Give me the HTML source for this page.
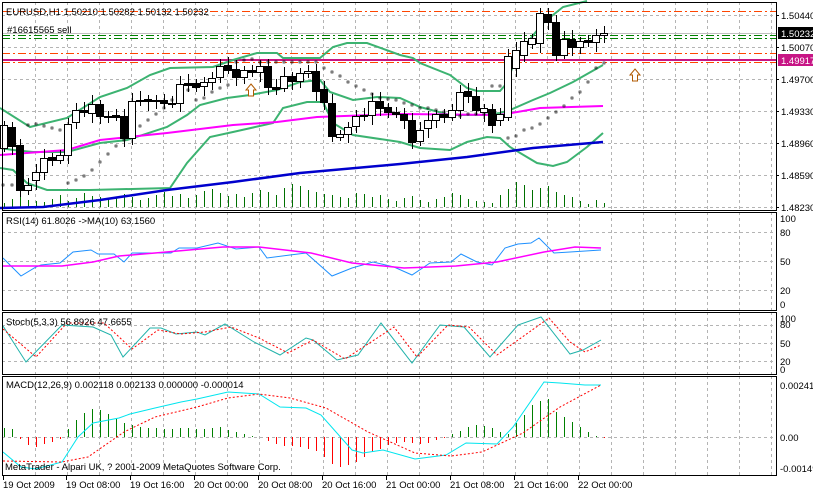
<!DOCTYPE html>
<html><head><meta charset="utf-8"><style>
html,body{margin:0;padding:0;background:#fff;}
svg{display:block;font-family:"Liberation Sans",sans-serif;font-size:9.5px;}
</style></head><body>
<svg id="s" width="813" height="492" xmlns="http://www.w3.org/2000/svg"></svg>
<script>
const S=document.getElementById('s');let h='';
const pl=(pts,c,w,d)=>`<polyline points="${pts.map(p=>p.join(',')).join(' ')}" fill="none" stroke="${c}" stroke-width="${w}"${d?` stroke-dasharray="${d}"`:''}/>`;
const L=(x1,y1,x2,y2,c,w,d)=>`<line x1="${x1}" y1="${y1}" x2="${x2}" y2="${y2}" stroke="${c}" stroke-width="${w||1}"${d?` stroke-dasharray="${d}"`:''}/>`;
const T=(x,y,t,c,a)=>`<text x="${x}" y="${y}" fill="${c||'#000'}"${a?` text-anchor="${a}"`:''}>${t}</text>`;
const panels=[[2,210],[212,310],[312,374],[376,475]];
const gray='#b4b4b4',gd='3,3';
for(const [t,b] of panels){for(let x=35;x<776;x+=32)h+=L(x+.5,t,x+.5,b,gray,1,gd);}
[15,47,79,111,143,175,207].forEach(y=>h+=L(2,y+.5,776,y+.5,gray,1,gd));
[232,261,290].forEach(y=>h+=L(2,y+.5,776,y+.5,gray,1,gd));
[325,343,361].forEach(y=>h+=L(2,y+.5,776,y+.5,gray,1,gd));
h+=L(2,437.5,776,437.5,gray,1,gd);
h+=L(2,11.5,776,11.5,'#ff4500',1,'8,3,2,3');
h+=L(2,53.5,776,53.5,'#ff4500',1,'8,3,2,3');
h+=L(2,62.5,776,62.5,'#ff4500',1,'8,3,2,3');
h+=L(2,33.5,776,33.5,'#c0c0c0',1);
h+=L(2,35.5,776,35.5,'#008000',1,'8,3,2,3');
h+=L(2,38.5,776,38.5,'#008000',1,'8,3,2,3');
h+=L(2,60,776,60,'#c71585',2);
const vol=[4,8,10,7,6,5,8,12,6,9,14,11,10,8,9,13,10,7,9,12,15,11,13,9,12,16,18,14,11,13,10,14,17,15,12,19,23,21,17,15,13,12,10,9,14,13,10,12,8,6,9,11,7,5,8,10,14,12,8,6,5,4,12,18,25,22,17,19,21,15,12,10,6,3,7,4];
vol.forEach((v,i)=>{const x=4+8*i+.5;h+=L(x,207,x,207-v,'#007000',1);});
const G='#3cb371';
h+=pl([[0,108],[30,127],[67,118],[100,97],[127,88],[150,75],[170,68],[213,67],[233,60],[257,53],[277,53],[283,58],[320,58],[333,47],[347,43],[367,43],[400,55],[413,58],[420,63],[450,75],[467,88],[477,91],[500,91],[507,83],[515,60],[527,43],[543,23],[563,7],[587,1]],G,2);
h+=pl([[0,148],[13,150],[33,152],[67,152],[100,143],[127,140],[167,127],[187,115],[200,105],[227,98],[250,95],[277,90],[300,82],[320,80],[330,92],[353,100],[377,97],[400,98],[420,107],[450,115],[483,115],[500,113],[510,110],[533,100],[550,93],[573,82],[603,65]],G,2);
h+=pl([[0,168],[13,170],[27,183],[47,190],[90,190],[170,188],[187,163],[210,137],[233,132],[273,123],[283,108],[307,102],[323,102],[333,123],[353,135],[400,142],[420,148],[450,150],[467,142],[487,137],[500,138],[510,147],[537,163],[553,166],[567,162],[587,147],[603,133]],G,2);
h+=pl([[0,155],[67,150],[100,140],[167,133],[233,125],[277,122],[317,117],[400,114],[500,115],[540,108],[603,106]],'#ff00ff',2);
h+=pl([[0,208],[43,207],[100,200],[167,190],[233,182],[300,173],[400,164],[467,157],[533,148],[603,142]],'#0000cd',2.5);
const sar=[[3,185],[12,185],[28,125],[36,124],[44,126],[52,128],[60,130],[68,183],[76,180],[84,176],[92,170],[100,162],[108,154],[116,146],[124,140],[132,134],[140,126],[148,120],[156,114],[164,108],[172,100],[180,96],[188,90],[196,100],[204,98],[212,92],[220,88],[228,85],[236,62],[244,60],[252,59],[260,62],[268,62],[276,62],[284,62],[292,62],[300,62],[308,62],[316,62],[324,68],[332,72],[340,76],[348,82],[356,86],[364,90],[372,94],[380,98],[388,99],[396,100],[404,103],[412,105],[420,108],[428,108],[436,110],[444,112],[452,113],[460,116],[468,114],[476,114],[484,114],[492,86],[500,86],[508,138],[516,136],[524,130],[532,128],[540,124],[548,118],[556,112],[564,106],[572,98],[580,92],[588,82],[596,68],[604,63]];
sar.forEach(p=>h+=`<rect x="${p[0]-1}" y="${p[1]-1}" width="2" height="2" fill="none" stroke="#000" stroke-width=".6"/>`);
const c=[[4,125,148,'w'],[12,127,146,'b'],[20,145,190,'b'],[28,185,190,'w'],[36,172,180,'w'],[44,158,172,'w'],[52,157,160,'b'],[60,155,160,'w'],[68,124,155,'w'],[76,110,122,'w'],[84,110,112,'b'],[92,104,113,'w'],[100,104,116,'b'],[108,116,117,'b'],[116,115,117,'b'],[124,116,138,'b'],[132,101,138,'w'],[140,100,101,'b'],[148,99,101,'b'],[156,100,101,'b'],[164,100,103,'b'],[172,103,104,'b'],[180,84,103,'w'],[188,83,85,'b'],[196,83,87,'b'],[204,82,86,'w'],[212,78,82,'w'],[220,66,77,'w'],[228,65,70,'b'],[236,69,77,'b'],[244,70,77,'w'],[252,70,72,'b'],[260,66,72,'w'],[268,66,87,'b'],[276,87,89,'b'],[284,76,88,'w'],[292,76,81,'b'],[300,73,81,'w'],[308,71,73,'w'],[316,71,91,'b'],[324,89,102,'b'],[332,103,136,'b'],[340,134,137,'w'],[348,127,134,'w'],[356,116,126,'w'],[364,115,116,'w'],[372,101,115,'w'],[380,101,108,'b'],[388,107,112,'b'],[396,112,114,'b'],[404,114,120,'b'],[412,120,142,'b'],[420,130,141,'w'],[428,120,128,'w'],[436,114,120,'w'],[444,114,117,'b'],[452,110,117,'w'],[460,92,110,'w'],[468,91,96,'b'],[476,96,110,'b'],[484,108,112,'w'],[492,109,125,'b'],[500,114,120,'w'],[508,56,117,'w'],[516,50,68,'w'],[524,41,55,'w'],[532,38,44,'w'],[540,13,43,'w'],[548,14,22,'b'],[556,22,55,'b'],[564,39,55,'w'],[572,39,47,'b'],[580,41,47,'w'],[588,40,42,'b'],[596,35,42,'w'],[604,33,35,'w']];
c.forEach((k,i)=>{const [x,t,b,col]=k;const wt=t-4-(i*7%6),wb=b+4+(i*5%7);h+=L(x+.5,wt,x+.5,wb,'#000',1);h+=`<rect x="${x-3.5}" y="${t+.5}" width="7" height="${Math.max(1,b-t)}" fill="${col=='w'?'#fff':'#000'}" stroke="#000" stroke-width="1"/>`;});
const arr=(x,y)=>`<path d="M${x},${y} l5,6 h-2.5 v6 h-5 v-6 h-2.5 z" fill="#fff" stroke="#b05a00" stroke-width="1"/>`;
h+=arr(251,84)+arr(635,69);
h+=pl([[3,258],[21,276],[36,267],[41,265],[60,263],[73,252],[91,250],[98,254],[114,254],[124,262],[132,253],[171,253],[179,248],[197,248],[218,243],[236,249],[259,247],[267,258],[290,255],[306,253],[332,276],[352,268],[373,262],[394,267],[412,275],[430,263],[451,262],[461,254],[477,262],[492,265],[505,248],[518,244],[531,243],[539,238],[554,253],[570,252],[601,250]],'#1e90ff',1);
h+=pl([[3,266],[62,266],[93,262],[119,256],[155,253],[223,247],[259,247],[311,253],[352,263],[404,268],[456,266],[497,262],[544,252],[575,247],[601,248]],'#ff00ff',1.5);
h+=pl([[3,326],[26,362],[62,325],[93,327],[111,335],[123,357],[150,328],[161,328],[176,334],[197,332],[205,335],[225,324],[254,342],[280,355],[306,338],[313,340],[337,360],[358,355],[381,323],[412,363],[440,325],[464,327],[490,357],[518,325],[541,317],[570,354],[583,350],[601,340]],'#20b2aa',1);
h+=pl([[3,329],[36,357],[67,323],[104,323],[132,349],[158,330],[181,334],[205,332],[231,327],[259,338],[288,353],[313,340],[345,359],[394,327],[417,357],[448,325],[469,327],[497,355],[549,318],[570,342],[585,352],[601,345]],'#ff0000',1,'2,2');
const hv=[9,8,-2,-8,-10,-7,-5,-2,8,17,24,28,27,23,18,14,12,10,9,9,8,8,9,9,8,8,9,10,7,5,3,1,0,-4,-7,-9,-9,-10,-12,-14,-20,-27,-30,-28,-25,-20,-15,-12,-8,-6,-5,-6,-7,-6,-3,-1,3,6,10,12,11,9,5,3,14,22,32,36,38,25,20,15,10,5,1,-1];
hv.forEach((v,i)=>{const x=4+8*i+.5;if(v)h+=L(x,437,x,437-v,v>0?'#008000':'#ff0000',1);});
h+=pl([[3,452],[21,467],[36,469],[62,462],[78,437],[93,423],[119,418],[130,414],[155,408],[181,402],[197,399],[228,392],[259,394],[280,407],[306,408],[321,415],[352,450],[363,453],[383,450],[415,459],[446,455],[466,443],[497,444],[513,427],[544,382],[560,383],[585,385],[601,385]],'#00e5ee',1);
h+=pl([[3,461],[62,462],[88,457],[124,432],[155,417],[197,407],[228,398],[259,394],[290,398],[326,408],[368,432],[415,453],[451,456],[482,452],[523,433],[560,407],[601,385]],'#ff0000',1,'2,2');
for(const [t,b] of panels)h+=`<rect x="2.5" y="${t+.5}" width="774" height="${b-t}" fill="none" stroke="#000" stroke-width="1"/>`;
[[15,'1.50440'],[47,'1.50070'],[79,'1.49700'],[111,'1.49330'],[143,'1.48960'],[175,'1.48590'],[207,'1.48230']].forEach(p=>{h+=L(776,p[0]+.5,779,p[0]+.5,'#000');h+=T(781,p[0]+4,p[1]);});
h+=`<rect x="778" y="27" width="35" height="12" fill="#000"/>`+T(781,37,'1.50232','#fff');
h+=`<rect x="778" y="54" width="35" height="12" fill="#c71585"/>`+T(781,64,'1.49917','#fff');
[[218,'100'],[232,'80'],[261,'50'],[290,'20'],[304,'0']].forEach(p=>h+=T(780,p[0]+4,p[1]));
[[318,'100'],[324,'80'],[343,'50'],[361,'20'],[369,'0']].forEach(p=>h+=T(780,p[0]+4,p[1]));
[[385,'0.002414'],[437,'0.00'],[468,'-0.00149']].forEach(p=>h+=T(780,p[0]+4,p[1]));
h+=T(6,15,'EURUSD,H1  1.50210 1.50282 1.50132 1.50232');
h+=T(7,33,'#16615565 sell');
h+=T(6,224,'RSI(14) 61.8026  -&gt;MA(10) 63.1560');
h+=T(6,325,'Stoch(5,3,3) 56.8926 47.6655');
h+=T(6,388,'MACD(12,26,9) 0.002118 0.002133 0.000000 -0.000014');
h+=T(5,470,'MetaTrader - Alpari UK, ? 2001-2009 MetaQuotes Software Corp.');
const d=['19 Oct 2009','19 Oct 08:00','19 Oct 16:00','20 Oct 00:00','20 Oct 08:00','20 Oct 16:00','21 Oct 00:00','21 Oct 08:00','21 Oct 16:00','22 Oct 00:00'];
d.forEach((t,i)=>{const x=i?66+64*(i-1):3;h+=L(x+.5,476,x+.5,480,'#000');h+=T(x,488,t);});
S.innerHTML=h;
</script>
</body></html>
